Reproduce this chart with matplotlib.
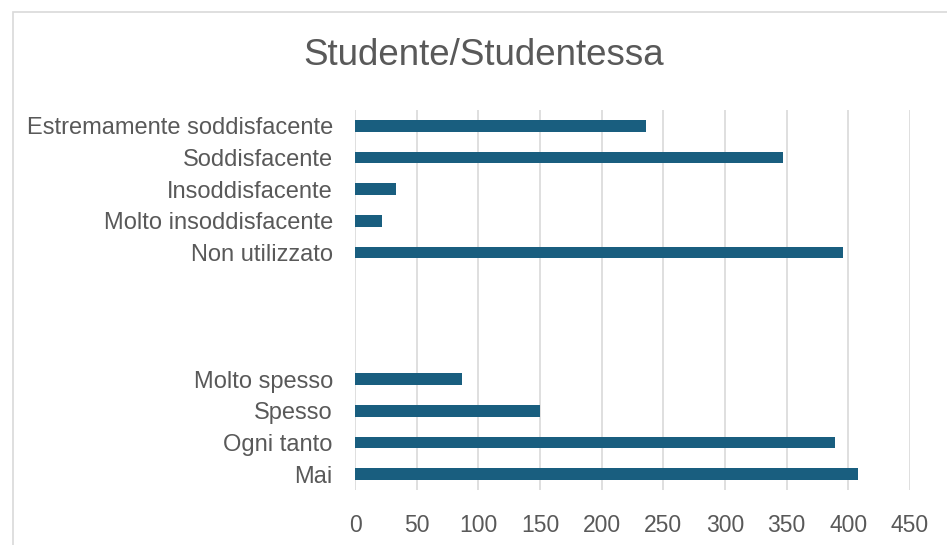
import matplotlib.pyplot as plt
from matplotlib.patches import Rectangle

# categories top to bottom; empty strings are the blank gap rows
labels = ["Estremamente soddisfacente", "Soddisfacente", "Insoddisfacente",
          "Molto insoddisfacente", "Non utilizzato", "", "", "",
          "Molto spesso", "Spesso", "Ogni tanto", "Mai"]
values = [236, 347, 33, 22, 396, 0, 0, 0, 87, 150, 389, 408]
xticks = [0, 50, 100, 150, 200, 250, 300, 350, 400, 450]

plt.rcParams['font.family'] = ['Liberation Sans', 'DejaVu Sans']
grey = "#595959"

fig = plt.figure(figsize=(9.47, 5.45), dpi=100)
# chart border (partly outside image)
fig.patches.append(Rectangle((13 / 947, -0.1), 1.0, 1 - 12 / 545 + 0.1,
                             transform=fig.transFigure, fill=False,
                             edgecolor="#D9D9D9", linewidth=1.2))

ax = fig.add_axes([355 / 947, 1 - 490 / 545, (910 - 355) / 947, 380 / 545])
pos = list(range(len(labels)))
ax.barh(pos, values, height=0.36, color="#195E7F", zorder=3)
ax.set_ylim(len(labels) - 0.5, -0.5)
ax.set_xlim(0, 450)
ax.set_xticks(xticks)
ax.set_yticks(pos)
ax.set_yticklabels(labels)
ax.tick_params(axis="both", length=0, colors=grey)
ax.tick_params(axis="x", pad=17, labelsize=16.5)
ax.tick_params(axis="y", pad=16, labelsize=17)
ax.grid(axis="x", color="#D9D9D9", linewidth=1.2, zorder=0)
for s in ax.spines.values():
    s.set_visible(False)

fig.text(484 / 947, 1 - 55 / 545, "Studente/Studentessa", ha="center",
         va="center", fontsize=26.5, color=grey)

fig.savefig("out.png", dpi=100)
